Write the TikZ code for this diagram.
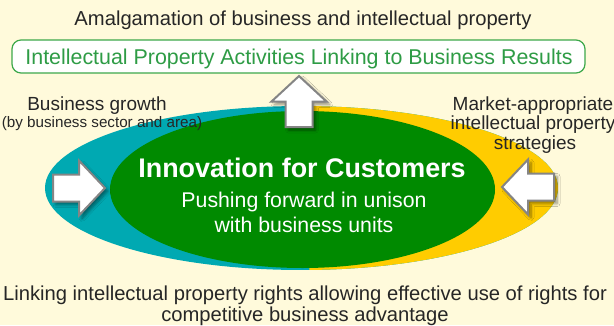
\documentclass[tikz,border=0pt]{standalone}
\usepackage{fontspec}
\setmainfont{Liberation Sans}
\usetikzlibrary{shapes.geometric,shadows.blur}
\definecolor{bgcream}{HTML}{FFFADB}
\definecolor{tealc}{HTML}{00A9B2}
\definecolor{yellowc}{HTML}{FFCC00}
\definecolor{greenc}{HTML}{008A00}
\definecolor{boxgreen}{HTML}{3DA84A}
\definecolor{txtgreen}{HTML}{2E9C45}
\definecolor{arrgray}{HTML}{858585}
\tikzset{
  plain/.style={font=\fontsize{20.2}{21}\selectfont, text=black!85, inner sep=0pt, anchor=base},
  sidetxt/.style={font=\fontsize{19}{20}\selectfont, text=black!85, inner sep=0pt, anchor=base},
  smalltxt/.style={font=\fontsize{15.2}{16}\selectfont, text=black!85, inner sep=0pt, anchor=base},
  whitetxt/.style={font=\fontsize{21.3}{22}\selectfont, text=white, inner sep=0pt, anchor=base},
  fatarrow/.pic={
    \draw[arrgray, line width=2pt, fill=white, line join=miter,
      blur shadow={shadow xshift=3pt, shadow yshift=-3pt, shadow blur steps=6, shadow opacity=45, shadow blur radius=3pt}]
      (0,-13.5) -- (26,-13.5) -- (26,-27.5) -- (52,0) -- (26,27.5) -- (26,13.5) -- (0,13.5) -- cycle;
  }
}
\begin{document}
\begin{tikzpicture}[x=1pt,y=-1pt]
\fill[bgcream] (0,0) rectangle (614,325);
\useasboundingbox (0,0) rectangle (614,325);

% outer two-colour ellipse
\node[ellipse, minimum width=513pt, minimum height=164pt, inner sep=0pt,
  path picture={
    \fill[tealc] (path picture bounding box.north west) rectangle (path picture bounding box.south east);
    \fill[yellowc] ([xshift=2pt]path picture bounding box.north) -- (path picture bounding box.north east)
       -- (path picture bounding box.south east) -- ([xshift=8pt]path picture bounding box.south) -- cycle;
  }] (outer) at (301.5,188) {};

% green ellipse
\node[ellipse, fill=greenc, minimum width=385pt, minimum height=157pt, inner sep=0pt] (inner) at (302.5,189.5) {};

\node[font=\bfseries\fontsize{26.9}{28}\selectfont, text=white, inner sep=0pt, anchor=base] (innov) at (302,177) {Innovation for Customers};
\node[whitetxt] (push1) at (304,207) {Pushing forward in unison};
\node[whitetxt] (push2) at (304,232) {with business units};

% top title and box
\node[plain] (amal) at (303,25) {Amalgamation of business and intellectual property};
\node[draw=boxgreen, line width=1.2pt, fill=white, rounded corners=9pt, minimum width=573pt, minimum height=33pt, inner sep=0pt] (ipbox) at (298.5,56.5) {};
\node[font=\fontsize{21.4}{22}\selectfont, text=txtgreen, inner sep=0pt, anchor=base] (iptext) at (299,64.5) {Intellectual Property Activities Linking to Business Results};

% side texts
\node[sidetxt] (bg) at (97,110) {Business growth};
\node[smalltxt] (bs) at (102,127.5) {(by business sector and area)};
\node[sidetxt] (mkt1) at (533,110) {Market-appropriate};
\node[sidetxt] (mkt2) at (533,129.5) {intellectual property};
\node[sidetxt] (mkt3) at (535,149) {strategies};

% bottom text
\node[plain] (link1) at (305,300) {Linking intellectual property rights allowing effective use of rights for};
\node[plain] (link2) at (305,321) {competitive business advantage};

% arrows
\coordinate (atop) at (299,127);
\coordinate (aleft) at (53,188);
\coordinate (aright) at (554,187);
\pic[rotate=90, xscale=0.98] at (atop) {fatarrow};
\pic at (aleft) {fatarrow};
\pic[rotate=180] at (aright) {fatarrow};
\end{tikzpicture}
\end{document}
